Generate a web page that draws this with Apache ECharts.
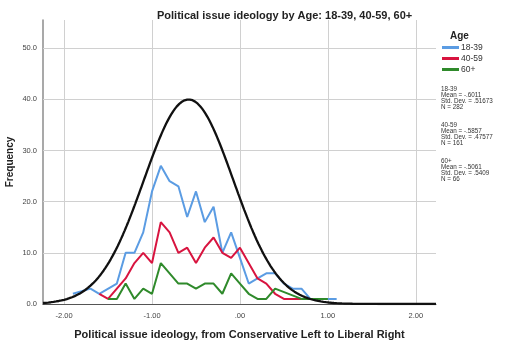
<!DOCTYPE html>
<html>
<head>
<meta charset="utf-8">
<script src="https://cdn.jsdelivr.net/npm/echarts@6/dist/echarts.min.js"></script>
<style>
  html, body { margin: 0; padding: 0; background: #fff; }
  #chart { width: 508px; height: 346px; }
</style>
</head>
<body>
<div id="chart"></div>
<script>
// Frequency polygons of political issue ideology per age group
const youngX  = [-1.9, -1.7, -1.6, -1.4, -1.3, -1.2, -1.1, -1.0, -0.9, -0.8, -0.7, -0.6, -0.5, -0.4, -0.3, -0.2, -0.1, 0.0, 0.1, 0.2, 0.3, 0.4, 0.5, 0.6, 0.7, 0.8, 1.0, 1.1];
const youngY  = [2, 3, 2, 4, 10, 10, 14, 22, 27, 24, 23, 17, 22, 16, 19, 10, 14, 9, 4, 5, 6, 6, 4, 3, 3, 1, 1, 1];
const middleX = [-1.6, -1.5, -1.3, -1.2, -1.1, -1.0, -0.9, -0.8, -0.7, -0.6, -0.5, -0.4, -0.3, -0.2, -0.1, 0.0, 0.2, 0.3, 0.4, 0.5, 0.6, 0.7];
const middleY = [2, 1, 5, 8, 10, 8, 16, 14, 10, 11, 8, 11, 13, 10, 9, 11, 5, 4, 2, 1, 1, 1];
const olderX  = [-1.5, -1.4, -1.3, -1.2, -1.1, -1.0, -0.9, -0.8, -0.7, -0.6, -0.5, -0.4, -0.3, -0.2, -0.1, 0.0, 0.1, 0.2, 0.3, 0.4, 0.7, 1.0];
const olderY  = [1, 1, 4, 1, 3, 2, 8, 6, 4, 4, 3, 4, 4, 2, 6, 4, 2, 1, 1, 3, 1, 1];

const groupNames = ['18-39', '40-59', '60+'];
const groupStats = [
  ['18-39', 'Mean = -.6011', 'Std. Dev. = .51673', 'N = 282'],
  ['40-59', 'Mean = -.5857', 'Std. Dev. = .47577', 'N = 161'],
  ['60+', 'Mean = -.5061', 'Std. Dev. = .5409', 'N = 66']
];

// Fitted normal curve for the pooled sample
const pooledMean = -0.584;
const pooledSd = 0.508;
const pooledN = 509;
const binWidth = 0.1;
const xMin = -2.24, xMax = 2.23;

const yTicks = [0, 10, 20, 30, 40, 50];
const xTicks = [-2, -1, 0, 1, 2];

function pairs(xs, ys) { return xs.map((x, i) => [x, ys[i]]); }

const curve = [];
const peak = pooledN * binWidth / (pooledSd * Math.sqrt(2 * Math.PI));
for (let i = 0; i <= 447; i++) {
  const x = xMin + i * 0.01;
  const z = (x - pooledMean) / pooledSd;
  curve.push([x, peak * Math.exp(-0.5 * z * z)]);
}

const font = '"Liberation Sans", Arial, sans-serif';
const colors = ['#5b9ce3', '#d8143f', '#2f8a2b'];

const chart = echarts.init(document.getElementById('chart'), null, { renderer: 'canvas' });
chart.setOption({
  animation: false,
  backgroundColor: '#fff',
  textStyle: { fontFamily: font },
  title: [
    {
      text: 'Political issue ideology by Age: 18-39, 40-59, 60+',
      left: 152, top: 5,
      textStyle: { fontFamily: font, fontSize: 11, fontWeight: 'bold', color: '#222' }
    },
    {
      text: 'Age',
      left: 445, top: 26,
      textStyle: { fontFamily: font, fontSize: 10, fontWeight: 'bold', color: '#222' }
    }
  ],
  legend: {
    data: groupNames,
    orient: 'vertical',
    left: 437, top: 38,
    itemWidth: 17, itemHeight: 3, itemGap: 2,
    icon: 'rect',
    textStyle: { fontFamily: font, fontSize: 8.5, color: '#333', padding: [0, 0, 0, -3] }
  },
  grid: { left: 43, right: 72, top: 20, bottom: 42, outerBoundsMode: 'none', containLabel: false },
  xAxis: {
    type: 'value', min: xMin, max: xMax,
    name: 'Political issue ideology, from Conservative Left to Liberal Right',
    nameLocation: 'middle', nameGap: 25, nameMoveOverlap: false,
    nameTextStyle: { fontFamily: font, fontSize: 11, fontWeight: 'bold', color: '#222' },
    axisLine: { onZero: false, lineStyle: { color: '#555', width: 1 } },
    axisTick: { show: false, customValues: xTicks },
    splitLine: { show: false },
    axisLabel: {
      customValues: xTicks,
      fontSize: 7.5, color: '#444', margin: 8,
      formatter: v => v === 0 ? '.00' : v.toFixed(2)
    }
  },
  yAxis: {
    type: 'value', min: 0, max: 55.5,
    name: 'Frequency',
    nameLocation: 'middle', nameGap: 28, nameRotate: 90, nameMoveOverlap: false,
    nameTextStyle: { fontFamily: font, fontSize: 10, fontWeight: 'bold', color: '#222' },
    axisLine: { show: true, onZero: false, lineStyle: { color: '#8c8c8c', width: 1.5 } },
    axisTick: { show: false, customValues: yTicks },
    splitLine: { show: false },
    axisLabel: {
      customValues: yTicks,
      fontSize: 7.5, color: '#444', margin: 6,
      formatter: v => v.toFixed(1)
    }
  },
  series: [
    {
      name: '18-39', type: 'line', data: pairs(youngX, youngY),
      showSymbol: false, symbol: 'none', z: 3,
      lineStyle: { color: colors[0], width: 2 }, itemStyle: { color: colors[0] }
    },
    {
      name: '40-59', type: 'line', data: pairs(middleX, middleY),
      showSymbol: false, symbol: 'none', z: 4,
      lineStyle: { color: colors[1], width: 2 }, itemStyle: { color: colors[1] }
    },
    {
      name: '60+', type: 'line', data: pairs(olderX, olderY),
      showSymbol: false, symbol: 'none', z: 5,
      lineStyle: { color: colors[2], width: 2 }, itemStyle: { color: colors[2] }
    },
    {
      name: 'Normal', type: 'line', data: curve,
      showSymbol: false, symbol: 'none', z: 6, smooth: false,
      lineStyle: { color: '#111', width: 2.3 },
      // grid lines drawn at the tick values
      markLine: {
        silent: true, symbol: 'none', z: 1,
        label: { show: false },
        lineStyle: { color: '#d0d0d0', width: 1, type: 'solid' },
        data: xTicks.map(v => ({ xAxis: v })).concat(yTicks.slice(1).map(v => ({ yAxis: v })))
      }
    }
  ],
  graphic: groupStats.map((lines, i) => ({
    type: 'text',
    left: 441, top: 86 + i * 36,
    style: {
      text: lines.join('\n'),
      font: '6.3px ' + font,
      lineHeight: 6,
      fill: '#333'
    }
  }))
});
</script>
</body>
</html>
